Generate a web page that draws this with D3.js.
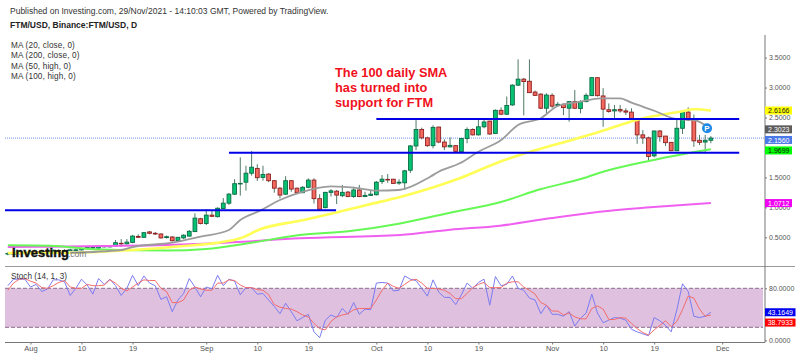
<!DOCTYPE html>
<html><head><meta charset="utf-8">
<script src="https://cdn.jsdelivr.net/npm/d3@7/dist/d3.min.js"></script>
<style>
html,body{margin:0;padding:0;background:#fff}
svg{display:block}
text{font-family:"Liberation Sans",Arial,sans-serif}
.axis .domain{display:none}
</style></head><body><svg id="c" width="800" height="357"></svg>
<script>
const firstDay = -4; // candle 0 = 28 Jul 2021; day 0 = 1 Aug 2021
const opens = [
.22,.23,.23,.25,.24,.26,.25,.27,.26,.28,
.27,.28,.29,.29,.31,.33,.32,.35,.35,.355,
.40,.39,.415,.515,.50,.59,.567,.555,.495,.505,
.443,.49,.52,.595,.81,.73,.87,.845,.98,1.07,
1.22,1.395,1.42,1.57,1.65,1.50,1.555,1.445,1.32,1.22,
1.445,1.32,1.245,1.335,1.455,1.145,.995,1.25,1.27,1.195,
1.255,1.18,1.29,1.18,1.20,1.21,1.43,1.467,1.47,1.405,
1.41,1.62,2.025,2.30,2.16,2.03,2.34,2.09,2.01,2.03,
1.93,2.15,2.30,2.21,2.345,2.44,2.235,2.62,2.555,2.71,
3.04,3.14,3.105,2.925,2.89,2.655,2.87,2.70,2.72,2.655,
2.765,2.65,2.765,2.865,3.165,2.86,2.63,2.61,2.635,2.61,
2.59,2.46,2.21,2.16,1.86,2.275,2.19,2.085,1.945,2.32,
2.59,2.475,2.12,2.09,2.12];
const closes = [
.23,.23,.25,.24,.26,.25,.27,.26,.28,.27,
.28,.29,.29,.31,.33,.33,.35,.35,.35,.41,
.39,.42,.52,.50,.577,.567,.555,.49,.51,.443,
.50,.535,.60,.82,.73,.87,.85,.985,1.07,1.22,
1.395,1.40,1.57,1.67,1.495,1.55,1.445,1.32,1.205,1.445,
1.305,1.245,1.335,1.455,1.145,.97,1.25,1.275,1.205,1.25,
1.18,1.29,1.18,1.20,1.22,1.42,1.47,1.46,1.40,1.42,
1.61,2.025,2.30,2.16,2.03,2.335,2.09,2.01,2.035,1.935,
2.15,2.30,2.21,2.345,2.425,2.225,2.62,2.555,2.70,3.04,
3.14,3.10,2.915,2.87,2.655,2.875,2.69,2.72,2.665,2.765,
2.655,2.765,2.87,3.165,2.865,2.64,2.60,2.63,2.61,2.59,
2.47,2.21,2.16,1.85,2.275,2.18,2.08,1.945,2.32,2.60,
2.46,2.11,2.085,2.12,2.156];
const highs = [
.25,.25,.27,.27,.28,.28,.29,.29,.30,.30,
.30,.31,.31,.33,.35,.35,.37,.37,.37,.455,
.47,.47,.54,.55,.59,.605,.59,.567,.53,.52,
.505,.55,.62,.90,.825,.97,.955,1.0,1.155,1.24,
1.47,1.835,1.695,1.94,1.72,1.695,1.57,1.455,1.34,1.52,
1.455,1.33,1.355,1.485,1.485,1.22,1.26,1.305,1.29,1.375,
1.275,1.345,1.375,1.26,1.29,1.44,1.54,1.555,1.475,1.47,
1.625,2.04,2.46,2.33,2.18,2.37,2.345,2.135,2.17,2.04,
2.16,2.335,2.32,2.485,2.46,2.445,2.635,2.67,2.85,3.055,
3.47,3.16,3.47,2.95,2.905,2.905,2.905,2.76,2.735,2.765,
2.96,2.79,2.905,3.17,3.17,2.99,2.735,2.71,2.71,2.655,
2.655,2.47,2.29,2.18,2.28,2.29,2.19,2.09,2.46,2.625,
2.67,2.55,2.21,2.21,2.19];
const lows = [
.20,.21,.21,.23,.22,.24,.23,.25,.24,.26,
.25,.27,.27,.28,.30,.31,.31,.33,.33,.338,
.338,.38,.40,.49,.49,.55,.54,.48,.48,.43,
.435,.47,.51,.59,.715,.705,.84,.83,.97,1.04,
1.205,1.195,1.28,1.53,1.44,1.445,1.42,1.245,1.15,1.205,
1.26,1.235,1.235,1.32,1.065,.96,.985,1.18,1.055,1.17,
1.17,1.16,1.17,1.17,1.19,1.20,1.39,1.41,1.39,1.375,
1.29,1.575,1.955,2.135,2.01,1.985,2.07,1.955,2.00,1.925,
1.925,2.07,2.20,2.20,2.32,2.21,2.225,2.54,2.54,2.695,
3.025,2.535,2.91,2.86,2.64,2.575,2.655,2.68,2.54,2.43,
2.64,2.57,2.755,2.86,2.85,2.345,2.58,2.47,2.58,2.54,
2.46,2.06,2.06,1.78,1.835,2.095,2.025,1.94,1.94,2.225,
2.44,2.01,2.04,1.90,2.07];

const ma20Days = [7,16,18,25,30,35,37,40.5,44,47.5,53,58,61,65,70.5,72,75.7,79,83,86,90,93,97,100.5,104,106,110,114,117,120];
const ma20Vals = [.243,.288,.338,.41,.51,.622,.789,.944,1.123,1.245,1.351,1.318,1.278,1.29,1.512,1.595,1.735,1.929,2.124,2.375,2.487,2.692,2.764,2.82,2.82,2.747,2.613,2.475,2.458,2.3023];
const ma50Days = [-4,6.4,18,27,33,37,40.5,47.5,53.4,59.3,65.2,75.7,82.8,86.3,93.4,100.4,107.4,114.6,117.2,120];
const ma50Vals = [.238,.243,.288,.355,.41,.483,.634,.777,.90,1.04,1.173,1.485,1.762,1.874,2.07,2.263,2.47,2.597,2.637,2.6166];
const ma100Days = [-4,3.4,12.3,24,31,38.7,47.5,56.4,65.2,74,82.8,89.9,97.5,100.4,109.3,115,120];
const ma100Vals = [.367,.36,.295,.278,.305,.405,.538,.605,.731,.911,1.084,1.301,1.485,1.578,1.779,1.886,1.9699];
const ma200Days = [-4,3.4,12.3,24,35.7,47.5,65.2,74,82.8,91.6,100.4,109.3,120];
const ma200Vals = [.338,.343,.355,.372,.417,.483,.538,.627,.694,.817,.927,1.0,1.0712];

const stochK = [
84,94,94,94,82,86,75,79,93,93,
90,69,80,94,85,71,95,86,94,84,
69,80,100,84,99,88,84,63,67,44,
62,72,95,82,67,82,79,100,84,94,
91,70,81,81,71,72,62,52,41,57,
44,30,35,40,13,4,31,39,35,49,
40,58,40,48,47,88,89,88,76,77,
99,94,92,80,68,93,74,66,66,55,
70,88,80,89,94,54,98,84,86,99,
80,77,65,62,41,54,40,40,37,44,
22,34,42,71,42,27,31,35,34,31,
17,13,10,7,35,30,23,13,47,87,
75,37,35,37,43.16];
const stochD = [
77,88,94,95,91,88,81,80,84,89,
92,82,80,80,86,84,84,85,93,88,
80,76,82,88,93,92,92,80,75,58,
58,62,77,82,79,77,77,88,88,93,
92,85,81,81,78,77,70,55,51,49,
48,44,39,36,26,18,16,29,36,39,
41,47,49,49,49,62,77,88,83,80,
86,92,94,88,80,80,79,77,72,64,
64,72,81,86,89,81,81,81,88,90,
90,82,77,71,58,54,45,45,39,42,
36,33,33,49,53,48,32,32,35,34,
26,18,12,8,16,23,30,21,29,47,
68,65,48,37,38.79];

const priceTicks = [0.5,1,1.5,2.5,3,3.5];
const stochTicks = [0,80];
const dateTickDays = [0,9,18,31,40,49,61,70,79,92,101,110,122];
const dateTickLabels = ["Aug","10","19","Sep","10","19","Oct","10","19","Nov","10","19","Dec"];
const levels = [[-4.5,53.9,.95],[35,125,1.91],[61,125,2.475]];
const lastPrice = 2.156;
const priceTags = [["2.6166",2.6166,"#ffff00","#222"],["2.3023",2.3023,"#5c5c5c","#fff"],["2.1560",2.125,"#4a78e6","#fff"],["1.9699",1.95,"#00ff00","#111"],["1.0712",1.0712,"#f000f0","#fff"]];
const stochTags = [["43.1649",43.16,"#0000ee","#fff"],["38.7933",27.3,"#ff0000","#fff"]];
const legendLines = ["MA (20, close, 0)","MA (200, close, 0)","MA (50, high, 0)","MA (100, high, 0)"];
const noteLines = ["The 100 daily SMA","has turned into","support for FTM"];

const svg = d3.select("#c");
const x = d3.scaleLinear().domain([0,122]).range([30.5,722.2]);
const y = d3.scaleLinear().domain([0.5,3.5]).range([237.3,57.6]);
const ys = d3.scaleLinear().domain([0,100]).range([340.3,275.3]);
const dayOf = i => firstDay + i;
const axisX = 765;

// stochastic band
svg.append("rect").attr("x",5).attr("width",758).attr("y",ys(80)).attr("height",ys(20)-ys(80)).attr("fill","#dfc0df");
[80,20].forEach(v=>svg.append("line").attr("x1",5).attr("x2",763).attr("y1",ys(v)).attr("y2",ys(v))
  .attr("stroke","#8a6f8a").attr("stroke-dasharray","4 2"));

// last price line
svg.append("line").attr("x1",5).attr("x2",axisX).attr("y1",y(lastPrice)).attr("y2",y(lastPrice))
  .attr("stroke","#6f8ff0").attr("stroke-dasharray","1 1");

// candles
const idx = d3.range(opens.length);
const g = svg.append("g");
g.selectAll(".w").data(idx).join("line").attr("x1",i=>x(dayOf(i))).attr("x2",i=>x(dayOf(i)))
  .attr("y1",i=>y(highs[i])).attr("y2",i=>y(lows[i])).attr("stroke","#4f7a66").attr("stroke-width",1);
g.selectAll(".b").data(idx).join("rect").attr("x",i=>x(dayOf(i))-1.9).attr("width",3.8)
  .attr("y",i=>y(Math.max(opens[i],closes[i])))
  .attr("height",i=>Math.max(0.6,Math.abs(y(opens[i])-y(closes[i]))))
  .attr("fill",i=>closes[i]>=opens[i]?"#08c274":"#f4695e")
  .attr("stroke",i=>closes[i]>=opens[i]?"#0a6b45":"#8e2020").attr("stroke-width",0.9);

// moving averages
const line = d3.line().x(d=>x(d[0])).y(d=>y(d[1])).curve(d3.curveMonotoneX);
[[ma200Days,ma200Vals,"#f060f0",2],[ma100Days,ma100Vals,"#66f855",2],[ma50Days,ma50Vals,"#ffff55",2.6],[ma20Days,ma20Vals,"#9c9c9c",1.8]]
 .forEach(([d,v,c,w])=>svg.append("path").attr("d",line(d.map((t,i)=>[t,v[i]]))).attr("fill","none").attr("stroke",c).attr("stroke-width",w));

// support / resistance levels
levels.forEach(([a,b,v])=>svg.append("line").attr("x1",x(a)).attr("x2",x(b)).attr("y1",y(v)).attr("y2",y(v))
  .attr("stroke","#0000e6").attr("stroke-width",2));

// stochastic lines
const sl = d3.line().x((d,i)=>x(dayOf(i))).y(d=>ys(d));
svg.append("path").attr("d",sl(stochK)).attr("fill","none").attr("stroke","#7c7cf2").attr("stroke-width",1);
svg.append("path").attr("d",sl(stochD)).attr("fill","none").attr("stroke","#f26c6c").attr("stroke-width",1);

// frame
svg.append("line").attr("x1",5).attr("x2",795).attr("y1",266.5).attr("y2",266.5).attr("stroke","#9a9a9a");
svg.append("line").attr("x1",5).attr("x2",axisX).attr("y1",342.5).attr("y2",342.5).attr("stroke","#777");
svg.append("line").attr("x1",axisX).attr("x2",axisX).attr("y1",35).attr("y2",342.5).attr("stroke","#777");

// axes
const fmt = d3.format(".4f");
const styleAxis = (s,size) => { s.selectAll("text").attr("fill","#555").style("font-size",size+"px");
  s.selectAll("line").attr("stroke","#777"); };
svg.append("g").attr("class","axis").attr("transform",`translate(${axisX},0)`)
  .call(d3.axisRight(y).tickValues(priceTicks).tickFormat(fmt).tickSize(2).tickPadding(2)).call(styleAxis,7);
svg.append("g").attr("class","axis").attr("transform",`translate(${axisX},0)`)
  .call(d3.axisRight(ys).tickValues(stochTicks).tickFormat(fmt).tickSize(2).tickPadding(2)).call(styleAxis,7);
svg.append("g").attr("class","axis").attr("transform","translate(0,342.5)")
  .call(d3.axisBottom(x).tickValues(dateTickDays).tickFormat((d,i)=>dateTickLabels[i]).tickSize(2).tickPadding(1)).call(styleAxis,7.5);

// tags
function tag(label,yy,bg,fg,w){
  svg.append("rect").attr("x",axisX).attr("y",yy-4).attr("width",w).attr("height",8).attr("fill",bg);
  svg.append("text").attr("x",axisX+w-2.5).attr("y",yy+2.6).attr("text-anchor","end").attr("fill",fg)
    .style("font-size","7px").text(label);
}
priceTags.forEach(([l,v,bg,fg])=>tag(l,y(v),bg,fg,27));
stochTags.forEach(([l,v,bg,fg])=>tag(l,ys(v),bg,fg,30.5));

// badge
svg.append("circle").attr("cx",x(119.5)-1).attr("cy",y(2.32)).attr("r",5).attr("fill","#1e88e5");
svg.append("text").attr("x",x(119.5)-1).attr("y",y(2.32)+2.8).attr("text-anchor","middle").attr("fill","#fff")
  .style("font-size","8px").style("font-weight","bold").text("P");

// texts
svg.append("text").attr("x",10).attr("y",14).attr("fill","#333").style("font-size","8.5px")
  .text("Published on Investing.com, 29/Nov/2021 - 14:10:03 GMT, Powered by TradingView.");
svg.append("text").attr("x",10).attr("y",28).attr("fill","#222").style("font-size","8.5px").style("font-weight","bold")
  .text("FTM/USD, Binance:FTM/USD, D");
legendLines.forEach((t,i)=>svg.append("text").attr("x",11).attr("y",48+i*10.45).attr("fill","#333")
  .style("font-size","8.2px").style("letter-spacing","0.15px").text(t));
noteLines.forEach((t,i)=>svg.append("text").attr("x",335).attr("y",77+i*14.8).attr("fill","#f01020")
  .style("font-size","12.8px").style("font-weight","bold").text(t));
svg.append("text").attr("x",11).attr("y",279).attr("fill","#333").style("font-size","8.2px").text("Stoch (14, 1, 3)");
svg.append("text").attr("x",12).attr("y",257).attr("fill","#111").attr("stroke","#111").attr("stroke-width",0.4)
  .style("font-size","13px").style("font-weight","bold").text("Investing");
svg.append("text").attr("x",68).attr("y",257).attr("fill","#777").style("font-size","8.5px").text(".com");
if(opens.length!==125||closes.length!==125||highs.length!==125||lows.length!==125||stochK.length!==125||stochD.length!==125) throw new Error("length mismatch");
</script></body></html>
